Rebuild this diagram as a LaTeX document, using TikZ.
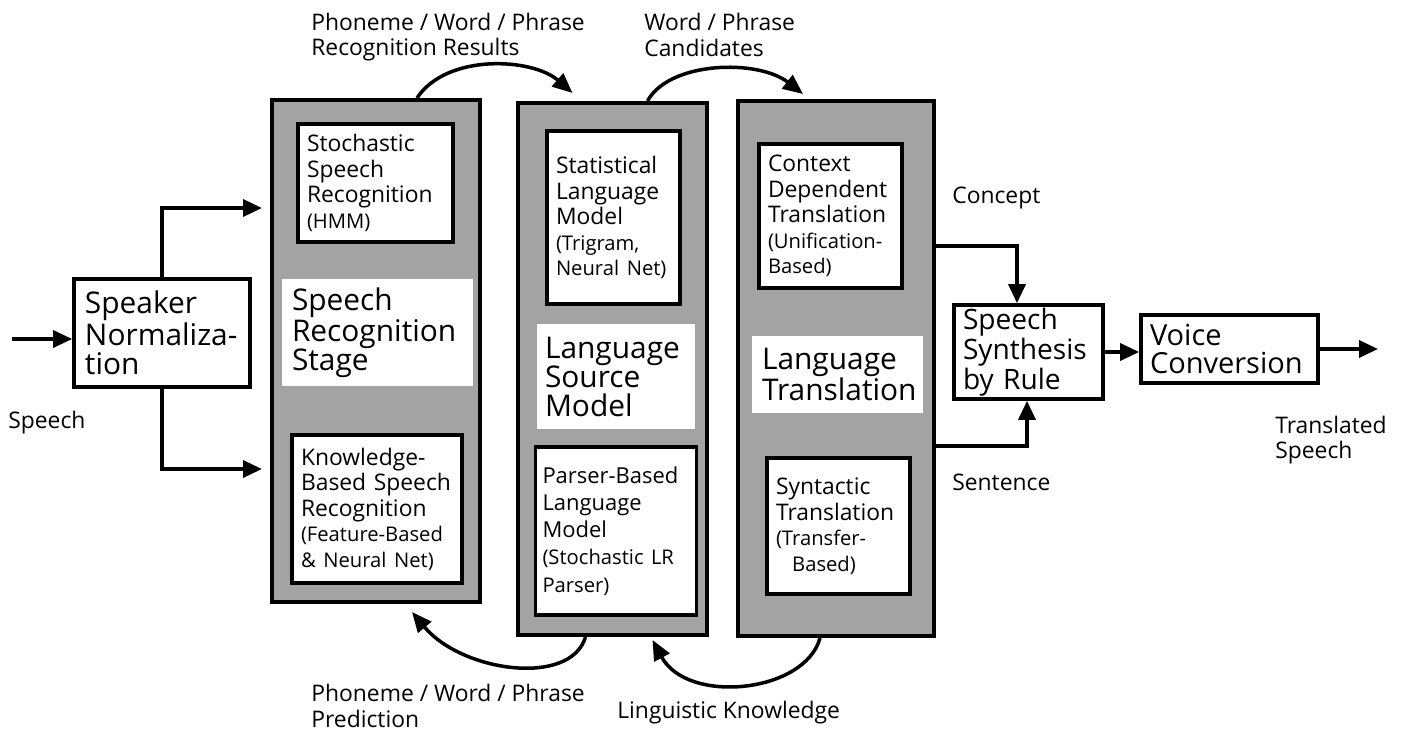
\documentclass[tikz,border=0pt]{standalone}
\usepackage{xcolor}
\usepackage{fontspec}
\setmainfont{Open Sans}
\usetikzlibrary{arrows.meta,calc}

\newcommand{\grande}{\fontsize{17}{16.5}\selectfont}
\newcommand{\mediana}{\fontsize{13}{14.5}\selectfont}
\newcommand{\chica}{\fontsize{11.5}{14.5}\selectfont}
\newcommand{\letrarotulo}{\fontsize{13}{14.5}\selectfont}

\tikzset{
  etapa/.style={draw, line width=2.3pt, fill=black!36, inner sep=0pt},
  caja/.style={draw, line width=2.1pt, fill=white, align=left, inner xsep=1.8mm, inner ysep=0pt, font=\mediana},
  tira/.style={fill=white, align=left, inner ysep=0pt, font=\grande},
  rotulo/.style={align=left, inner sep=0pt, font=\letrarotulo},
  flecha/.style={line width=2pt, -{Triangle[length=3.8mm,width=3.4mm]}},
  arco/.style={line width=2pt, -{Triangle[length=4mm,width=3.4mm]}}
}

\begin{document}
\begin{tikzpicture}[x=0.2mm,y=-0.2mm]
        \useasboundingbox (0,0) rectangle (1410,731);

        % Paso 1: Normalizacion del hablante
        \node[caja, font=\grande, inner xsep=2.2mm, text width=30.8mm, minimum height=21.6mm] (spk) at (162,333) {Speaker\\Normaliza-\\tion};

        % Paso 2: Las tres etapas grises
        \node[etapa, minimum width=41.6mm, minimum height=100.4mm] (sr) at (376,351) {};
        \node[etapa, minimum width=37.8mm, minimum height=106.4mm] (lsm) at (612.5,369) {};
        \node[etapa, minimum width=39.2mm, minimum height=107mm] (lt) at (836,368.5) {};

        % Paso 3: Reconocimiento del habla
        \node[caja, text width=27.4mm, minimum height=23.6mm] (ssr) at (375.5,183) {Stochastic\\Speech\\Recognition\\{\chica (HMM)}};
        \node[tira, inner xsep=2mm, text width=34.2mm, minimum height=21.4mm] (srs) at (377.5,332.5) {Speech\\Recognition\\Stage};
        \node[caja, text width=30.4mm, minimum height=29.6mm] (kbsr) at (377,509) {Knowledge-\\Based Speech\\Recognition\\{\chica (Feature-Based}\\{\chica \& Neural Net)}};

        % Paso 4: Modelo del lenguaje
        \node[caja, text width=23mm, minimum height=34.6mm] (slm) at (613.5,217.5) {Statistical\\Language\\Model\\{\chica (Trigram,}\\{\chica Neural Net)}};
        \node[tira, inner xsep=1.6mm, text width=28.4mm, minimum height=21mm] (lsmt) at (616,376.5) {Language\\Source\\Model};
        \node[caja, font=\fontsize{12.5}{15.5}\selectfont, inner xsep=1.4mm, text width=29.4mm, minimum height=33.6mm] (pblm) at (616,531) {Parser-Based\\Language\\Model\\{\chica (Stochastic LR}\\{\chica Parser)}};

        % Paso 5: Traduccion
        \node[caja, text width=25mm, minimum height=28.8mm] (cdt) at (830.5,216) {Context\\Dependent\\Translation\\{\chica (Unification-}\\{\chica Based)}};
        \node[tira, inner xsep=2mm, text width=30.2mm, minimum height=15.4mm] (ltt) at (837.5,374.5) {Language\\Translation};
        \node[caja, text width=25mm, minimum height=27.2mm] (st) at (838.5,526) {Syntactic\\Translation\\{\chica (Transfer-}\\{\chica\hspace*{0.8em}Based)}};

        % Paso 6: Sintesis y conversion de voz
        \node[caja, font=\fontsize{16}{14}\selectfont, text width=26.2mm, minimum height=18.8mm] (ssbr) at (1028.5,352) {Speech\\Synthesis\\by Rule};
        \node[caja, font=\fontsize{16.5}{15.5}\selectfont, text width=31.8mm, minimum height=13.6mm] (vc) at (1229.5,349) {Voice\\Conversion};

        % Paso 7: Flechas rectas
        \coordinate (ent) at (12,339);
        \coordinate (r1) at (262,208);
        \coordinate (r2) at (262,469);
        \coordinate (c1) at (1017,246);
        \coordinate (c2) at (1027,446);
        \coordinate (sal) at (1378,349);
        \draw[flecha] (ent) -- (ent -| spk.west);
        \draw[flecha] (spk.north) |- (r1);
        \draw[flecha] (spk.south) |- (r2);
        \draw[flecha] (lt.east |- c1) -| (ssbr.north -| c1);
        \draw[flecha] (lt.east |- c2) -| (ssbr.south -| c2);
        \draw[flecha] (ssbr.east) -- (ssbr.east -| vc.west);
        \draw[flecha] (vc.east) -- (sal);

        % Paso 8: Flechas curvas
        \draw[arco] ($(sr.north)+(41,0)$) .. controls +(30,-45) and +(-40,-35) .. ($(lsm.north)+(-40,-8)$);
        \draw[arco] ($(lsm.north)+(35,0)$) .. controls +(22,-40) and +(-45,-35) .. ($(lt.north)+(-33,-5)$);
        \draw[arco] ($(lsm.south)+(-27,0)$) .. controls +(-15,50) and +(50,60) .. ($(sr.south)+(36,8)$);
        \draw[arco] ($(lt.south)+(-16,0)$) .. controls +(-15,55) and +(35,65) .. ($(lsm.south)+(40,3)$);

        % Paso 9: Rotulos
        \node[rotulo, anchor=west] (et1) at (311,37) {Phoneme / Word / Phrase\\Recognition Results};
        \node[rotulo, anchor=west] (et2) at (644,35) {Word / Phrase\\Candidates};
        \node[rotulo, anchor=west] (et3) at (311,706) {Phoneme / Word / Phrase\\Prediction};
        \node[rotulo, anchor=west] (et4) at (617,713) {Linguistic Knowledge};
        \node[rotulo, anchor=west] (et5) at (8,423) {Speech};
        \node[rotulo, anchor=west] (et6) at (952,198) {Concept};
        \node[rotulo, anchor=west] (et7) at (952,482) {Sentence};
        \node[rotulo, anchor=west] (et8) at (1275,440) {Translated\\Speech};
    \end{tikzpicture}
\end{document}
